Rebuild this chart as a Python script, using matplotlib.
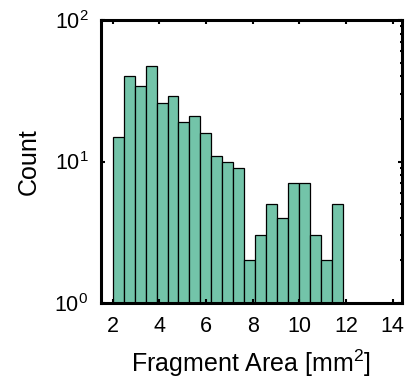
import matplotlib
matplotlib.use('Agg')
import matplotlib.pyplot as plt
import numpy as np

# bin edges (21 bins) and counts
bin_start = 2.0
bin_width = 0.47
counts = [15, 40, 34, 47, 26, 29, 19, 21, 16, 11, 10, 9,
          2, 3, 5, 4, 7, 7, 3, 2, 5]
x_ticks = [2, 4, 6, 8, 10, 12, 14]

plt.rcParams['font.family'] = ['Liberation Sans', 'DejaVu Sans']
plt.rcParams['mathtext.fontset'] = 'custom'
plt.rcParams['mathtext.rm'] = 'Liberation Sans'
plt.rcParams['mathtext.it'] = 'Liberation Sans:italic'

fig = plt.figure(figsize=(4.11, 3.89), dpi=100)
ax = fig.add_axes([101 / 411, 86 / 389, 301 / 411, 283 / 389])

edges = bin_start + bin_width * np.arange(len(counts))
ax.bar(edges, counts, width=bin_width, align='edge', color='#73c4a9',
       edgecolor='black', linewidth=0.9)

ax.set_yscale('log')
ax.set_ylim(1, 100)
ax.set_xlim(1.5, 14.4)
ax.set_xticks(x_ticks)
ax.set_xticklabels([str(t) for t in x_ticks])
ax.minorticks_off()
ax.yaxis.set_minor_locator(matplotlib.ticker.LogLocator(subs=np.arange(2, 10)))
ax.yaxis.set_minor_formatter(matplotlib.ticker.NullFormatter())

ax.tick_params(which='both', direction='in', top=True, right=True,
               labelsize=15.5, width=1.5)
ax.tick_params(which='major', length=3, pad=9)
ax.tick_params(which='minor', length=1.5)
for s in ax.spines.values():
    s.set_linewidth(2.2)

ax.set_xlabel('Fragment Area [mm$^2$]', fontsize=18, labelpad=8)
ax.set_ylabel('Count', fontsize=18, labelpad=10)

fig.savefig('out.png', dpi=100)
